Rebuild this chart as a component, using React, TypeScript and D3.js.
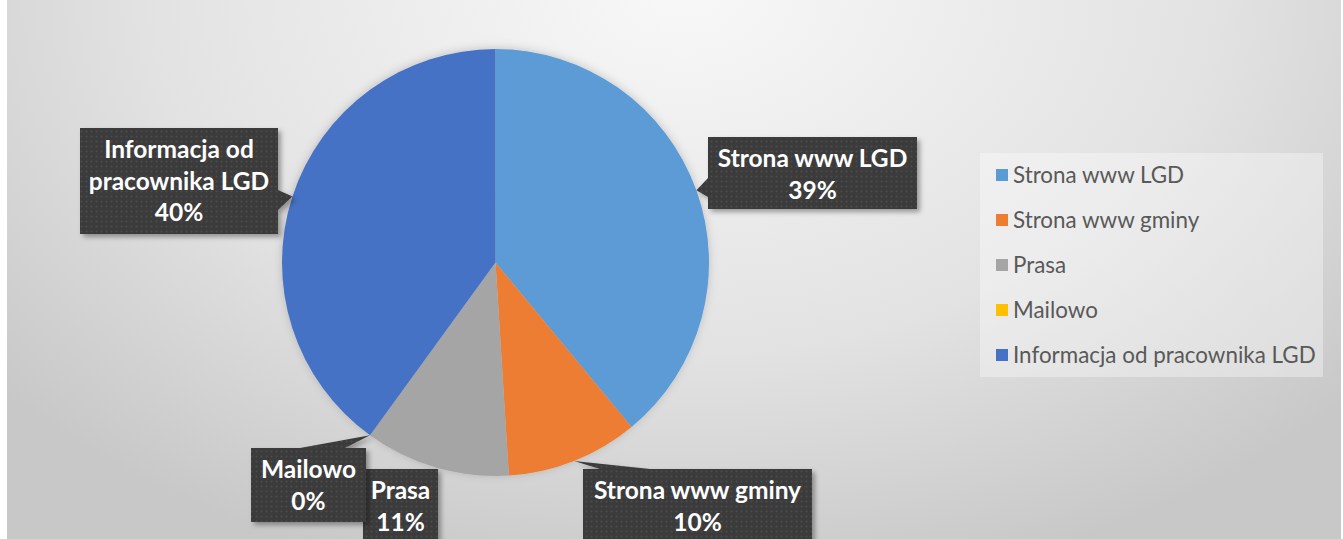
import React from 'react';
import * as d3 from 'd3';

const categories = ['Strona www LGD', 'Strona www gminy', 'Prasa', 'Mailowo', 'Informacja od pracownika LGD'];
const values = [39, 10, 11, 0, 40];
const colors = ['#5B9BD5', '#ED7D31', '#A5A5A5', '#FFC000', '#4472C4'];
const labelLines = [['Strona www LGD'], ['Strona www gminy'], ['Prasa'], ['Mailowo'], ['Informacja od', 'pracownika LGD']];

const W = 1343;
const H = 539;
const CX = 495.5;
const CY = 262.5;
const R = 213.5;

// callout box layout
const boxes = [
  { x: 708, y: 137, w: 209, h: 72, base: [[708, 178], [708, 197]] },
  { x: 583, y: 469, w: 229, h: 80, base: [[600, 469], [650, 469]] },
  { x: 363, y: 469, w: 75, h: 80, base: null },
  { x: 251, y: 448, w: 115, h: 74, base: [[300, 448], [345, 448]] },
  { x: 80, y: 128, w: 198, h: 106, base: [[278, 190], [278, 210]] },
];

export default function App() {
  const total = d3.sum(values);
  const pie = d3.pie<number>().sort(null).value((d) => d)(values);
  const arc = d3.arc<d3.PieArcDatum<number>>().innerRadius(0).outerRadius(R);
  const color = d3.scaleOrdinal<string, string>().domain(categories).range(colors);
  const legendY = d3.scalePoint<string>().domain(categories).range([175, 355]);
  const pct = d3.format('.0%');
  const font = "Lato, 'Open Sans', sans-serif";

  return (
    <svg width={W} height={H} style={{ position: 'absolute', left: 0, top: 0, background: '#fff' }}>
      <defs>
        <radialGradient id="bg" gradientUnits="userSpaceOnUse" cx={680} cy={-10} r={900}
          gradientTransform="translate(680,-10) scale(1,0.68) translate(-680,10)">
          <stop offset="0" stopColor="#f8f8f8" />
          <stop offset="0.6" stopColor="#e2e2e2" />
          <stop offset="1" stopColor="#c8c8c8" />
        </radialGradient>
        <pattern id="dots" width="5" height="5" patternUnits="userSpaceOnUse">
          <rect width="5" height="5" fill="#3b3b3b" />
          <circle cx="1.5" cy="1.5" r="1" fill="#4d4d4d" />
        </pattern>
        <filter id="shadow" x="-20%" y="-20%" width="140%" height="140%">
          <feDropShadow dx="3" dy="3" stdDeviation="2.5" floodColor="#000" floodOpacity="0.35" />
        </filter>
        <filter id="pieShadow" x="-20%" y="-20%" width="140%" height="140%">
          <feDropShadow dx="0" dy="-1" stdDeviation="4" floodColor="#000" floodOpacity="0.18" />
        </filter>
      </defs>
      <rect x={7} y={0} width={1334} height={539} fill="url(#bg)" />

      <g transform={`translate(${CX},${CY})`} filter="url(#pieShadow)">
        {pie.map((d, i) => (
          <path key={i} d={arc(d) || ''} fill={color(categories[i])} />
        ))}
      </g>

      {pie.map((d, i) => {
        const b = boxes[i];
        const mid = (d.startAngle + d.endAngle) / 2;
        const tx = CX + R * Math.sin(mid);
        const ty = CY - R * Math.cos(mid);
        const lines = [...labelLines[i], pct(values[i] / total)];
        return (
          <g key={i}>
            <g filter="url(#shadow)">
              <rect x={b.x} y={b.y} width={b.w} height={b.h} fill="url(#dots)" />
              {b.base && (
                <path d={`M${b.base[0][0]},${b.base[0][1]}L${tx},${ty}L${b.base[1][0]},${b.base[1][1]}Z`} fill="url(#dots)" />
              )}
            </g>
            {lines.map((t, j) => (
              <text key={j} x={b.x + b.w / 2} y={b.y + 30 + j * 31.5} textAnchor="middle"
                fontFamily={font} fontWeight={700} fontSize={24.5} fill="#ffffff">{t}</text>
            ))}
          </g>
        );
      })}

      <rect x={980} y={153} width={343} height={224} fill="#ffffff" fillOpacity={0.35} />
      {categories.map((c, i) => (
        <g key={c}>
          <rect x={996} y={(legendY(c) as number) - 6} width={12} height={12} fill={color(c)} />
          <text x={1013} y={(legendY(c) as number) + 7.5} fontFamily={font} fontSize={22.4} fill="#595959">{c}</text>
        </g>
      ))}
    </svg>
  );
}
